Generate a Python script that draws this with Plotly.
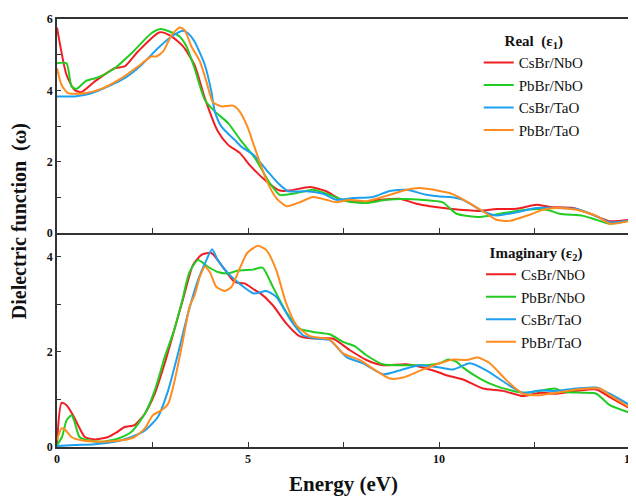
import plotly.graph_objects as go
from plotly.subplots import make_subplots

# ---------------- data: real part (epsilon_1) ----------------
re_csbr_nbo_x = [0.0, 0.25, 0.46, 0.64, 0.99, 1.51, 1.77, 2.12, 2.69, 3.0, 3.3, 3.6, 3.87, 4.21, 4.48, 4.79, 5.04, 5.48, 5.83, 6.09, 6.62, 7.05, 7.4, 7.92, 8.45, 8.97, 9.41, 9.76, 10.28, 11.07, 11.5, 12.03, 12.55, 12.9, 13.51, 14.03, 14.47, 15.0]
re_csbr_nbo_y = [5.76, 4.43, 4.01, 3.95, 4.25, 4.62, 4.67, 5.09, 5.63, 5.51, 5.23, 4.71, 3.78, 2.85, 2.47, 2.24, 1.91, 1.45, 1.19, 1.19, 1.29, 1.17, 0.95, 0.86, 0.93, 0.96, 0.82, 0.75, 0.68, 0.62, 0.67, 0.68, 0.79, 0.73, 0.70, 0.51, 0.33, 0.37]

re_pbbr_nbo_x = [0.0, 0.25, 0.38, 0.51, 0.77, 1.07, 1.51, 1.95, 2.47, 2.71, 2.99, 3.21, 3.39, 3.6, 3.87, 4.13, 4.48, 4.8, 5.2, 5.57, 5.83, 6.18, 6.7, 7.14, 7.58, 8.1, 8.62, 9.15, 9.76, 10.1, 10.46, 11.07, 11.6, 12.03, 12.64, 12.9, 13.15, 13.77, 14.12, 14.47, 15.0]
re_pbbr_nbo_y = [4.76, 4.76, 4.11, 4.04, 4.27, 4.36, 4.62, 5.04, 5.6, 5.72, 5.63, 5.51, 5.23, 4.62, 3.73, 3.41, 3.08, 2.61, 2.07, 1.40, 1.07, 1.10, 1.21, 1.07, 0.89, 0.84, 0.93, 0.95, 0.91, 0.86, 0.54, 0.45, 0.54, 0.62, 0.67, 0.63, 0.54, 0.48, 0.37, 0.26, 0.35]

re_csbr_tao_x = [0.0, 0.46, 0.9, 1.34, 1.77, 2.21, 2.64, 3.0, 3.3, 3.43, 3.6, 3.87, 4.04, 4.13, 4.3, 4.65, 4.85, 5.15, 5.48, 5.83, 6.05, 6.53, 6.96, 7.31, 7.75, 8.27, 8.71, 9.15, 9.67, 10.02, 10.28, 10.63, 11.15, 11.5, 12.03, 12.55, 13.07, 13.6, 14.12, 14.47, 15.0]
re_csbr_tao_y = [3.83, 3.83, 3.92, 4.11, 4.34, 4.71, 5.18, 5.51, 5.67, 5.60, 5.37, 4.71, 3.97, 3.41, 2.99, 2.61, 2.40, 2.19, 1.77, 1.35, 1.17, 1.17, 1.10, 0.93, 0.98, 1.01, 1.18, 1.21, 1.07, 1.02, 1.01, 0.93, 0.61, 0.49, 0.58, 0.70, 0.70, 0.67, 0.47, 0.30, 0.35]

re_pbbr_tao_x = [0.0, 0.12, 0.29, 0.73, 1.16, 1.69, 2.12, 2.47, 2.6, 2.78, 3.0, 3.21, 3.34, 3.52, 3.74, 3.91, 4.08, 4.3, 4.61, 4.78, 5.0, 5.15, 5.48, 5.74, 6.01, 6.35, 6.7, 7.05, 7.31, 7.66, 8.1, 8.62, 9.15, 9.49, 10.02, 10.28, 10.72, 11.15, 11.5, 11.85, 12.37, 12.72, 13.07, 13.6, 14.12, 14.47, 15.0]
re_pbbr_tao_y = [4.62, 4.15, 3.92, 3.92, 4.04, 4.34, 4.67, 4.95, 4.95, 5.09, 5.55, 5.76, 5.69, 5.23, 4.81, 4.25, 3.67, 3.55, 3.57, 3.41, 2.94, 2.47, 1.49, 0.98, 0.75, 0.86, 1.01, 0.93, 0.86, 0.93, 0.89, 1.04, 1.21, 1.26, 1.18, 1.12, 0.89, 0.61, 0.37, 0.34, 0.51, 0.65, 0.70, 0.65, 0.48, 0.26, 0.34]

# ---------------- data: imaginary part (epsilon_2) ----------------
im_csbr_nbo_x = [0.0, 0.12, 0.25, 0.42, 0.55, 0.73, 0.99, 1.34, 1.55, 1.77, 2.03, 2.3, 2.56, 2.82, 3.08, 3.34, 3.56, 3.78, 4.04, 4.3, 4.65, 4.91, 5.18, 5.31, 5.65, 6.0, 6.35, 6.7, 7.22, 7.66, 8.1, 8.53, 9.15, 9.67, 10.02, 10.19, 10.63, 11.15, 11.68, 12.2, 12.64, 13.07, 13.6, 14.12, 14.47, 15.0]
im_csbr_nbo_y = [0.06, 0.93, 0.88, 0.67, 0.46, 0.21, 0.16, 0.21, 0.30, 0.42, 0.46, 0.70, 1.12, 1.76, 2.49, 3.23, 3.83, 4.04, 4.08, 3.83, 3.47, 3.44, 3.30, 3.24, 2.98, 2.60, 2.33, 2.28, 2.28, 2.04, 1.83, 1.72, 1.74, 1.65, 1.56, 1.51, 1.42, 1.23, 1.18, 1.07, 1.14, 1.12, 1.18, 1.21, 1.05, 0.81]

im_pbbr_nbo_x = [0.0, 0.13, 0.25, 0.38, 0.46, 0.59, 0.81, 1.16, 1.6, 1.95, 2.3, 2.56, 2.82, 3.08, 3.26, 3.47, 3.69, 3.95, 4.21, 4.48, 4.74, 5.13, 5.38, 5.65, 6.0, 6.35, 6.7, 7.14, 7.49, 7.79, 8.1, 8.53, 9.15, 9.67, 10.02, 10.24, 10.46, 10.63, 11.07, 11.5, 12.2, 12.64, 13.03, 13.25, 13.77, 14.12, 14.47, 15.0]
im_pbbr_nbo_y = [0.04, 0.21, 0.56, 0.67, 0.53, 0.21, 0.14, 0.11, 0.18, 0.32, 0.70, 1.19, 1.89, 2.49, 3.02, 3.68, 3.93, 3.79, 3.68, 3.65, 3.71, 3.73, 3.77, 3.37, 2.84, 2.49, 2.42, 2.37, 2.21, 2.12, 1.93, 1.74, 1.72, 1.72, 1.76, 1.84, 1.79, 1.67, 1.44, 1.28, 1.14, 1.18, 1.23, 1.16, 1.14, 1.12, 0.88, 0.72]

im_csbr_tao_x = [0.0, 0.46, 0.99, 1.51, 1.95, 2.3, 2.64, 2.91, 3.17, 3.43, 3.69, 3.91, 4.06, 4.21, 4.48, 4.8, 5.15, 5.48, 5.74, 6.09, 6.44, 6.79, 7.14, 7.58, 8.01, 8.53, 8.97, 9.49, 10.02, 10.37, 10.81, 11.24, 11.77, 12.2, 12.64, 13.07, 13.6, 14.12, 14.47, 15.0]
im_csbr_tao_y = [0.02, 0.04, 0.06, 0.11, 0.21, 0.35, 0.63, 1.19, 1.97, 2.81, 3.51, 3.93, 4.16, 3.93, 3.65, 3.42, 3.23, 3.28, 3.16, 2.70, 2.35, 2.28, 2.25, 1.89, 1.76, 1.53, 1.61, 1.72, 1.67, 1.63, 1.76, 1.61, 1.33, 1.14, 1.19, 1.18, 1.23, 1.25, 1.12, 0.88]

im_pbbr_tao_x = [0.0, 0.12, 0.2, 0.38, 0.64, 1.16, 1.69, 2.03, 2.3, 2.51, 2.73, 2.91, 3.08, 3.3, 3.47, 3.6, 3.74, 3.87, 4.0, 4.17, 4.39, 4.57, 4.78, 4.98, 5.26, 5.48, 5.74, 6.0, 6.27, 6.62, 7.14, 7.49, 7.92, 8.27, 8.71, 9.06, 9.49, 10.02, 10.37, 10.72, 11.02, 11.33, 11.77, 12.2, 12.64, 13.07, 13.6, 14.21, 14.47, 15.0]
im_pbbr_tao_y = [0.14, 0.39, 0.37, 0.21, 0.14, 0.11, 0.14, 0.21, 0.39, 0.67, 0.77, 0.91, 1.40, 2.25, 2.95, 3.19, 3.58, 3.79, 3.68, 3.37, 3.28, 3.37, 3.75, 4.08, 4.23, 4.14, 3.72, 3.02, 2.56, 2.33, 2.26, 1.97, 1.83, 1.65, 1.44, 1.46, 1.60, 1.76, 1.84, 1.83, 1.88, 1.76, 1.40, 1.12, 1.09, 1.14, 1.21, 1.23, 1.09, 0.83]

series_names = ["CsBr/NbO", "PbBr/NbO", "CsBr/TaO", "PbBr/TaO"]
series_colors = ["#f01e23", "#22cc22", "#1ea0f0", "#ff8c1e"]
x_ticks = [0, 5, 10, 15]

real_sets = [(re_csbr_nbo_x, re_csbr_nbo_y), (re_pbbr_nbo_x, re_pbbr_nbo_y),
             (re_csbr_tao_x, re_csbr_tao_y), (re_pbbr_tao_x, re_pbbr_tao_y)]
imag_sets = [(im_csbr_nbo_x, im_csbr_nbo_y), (im_pbbr_nbo_x, im_pbbr_nbo_y),
             (im_csbr_tao_x, im_csbr_tao_y), (im_pbbr_tao_x, im_pbbr_tao_y)]

SERIF = "Times New Roman, Liberation Serif, serif"

fig = make_subplots(rows=2, cols=1, shared_xaxes=True, vertical_spacing=0)

for (xs, ys), name, col in zip(real_sets, series_names, series_colors):
    fig.add_trace(go.Scatter(x=xs, y=ys, mode="lines", name=name,
                             line=dict(color=col, width=2, shape="spline", smoothing=0.6),
                             legend="legend"), row=1, col=1)
for (xs, ys), name, col in zip(imag_sets, series_names, series_colors):
    fig.add_trace(go.Scatter(x=xs, y=ys, mode="lines", name=name,
                             line=dict(color=col, width=2, shape="spline", smoothing=0.6),
                             legend="legend2"), row=2, col=1)

axis_common = dict(showline=True, linecolor="#333333", linewidth=1.5, automargin=False,
                   ticks="inside", tickcolor="#333333", tickwidth=1.2, showgrid=False,
                   zeroline=False, ticklabeloverflow="allow",
                   tickfont=dict(family=SERIF, size=12, color="#111111", weight="bold"))

fig.update_xaxes(range=[0, 15], tickvals=x_ticks, ticklen=5,
                 minor=dict(dtick=2.5, ticks="inside", ticklen=5, tickcolor="#333333", tickwidth=1.2, showgrid=False),
                 **axis_common)
fig.update_xaxes(showticklabels=False, mirror=True, row=1, col=1)
fig.update_xaxes(showticklabels=True, mirror=False, row=2, col=1,
                 title=dict(text="Energy (eV)", standoff=12,
                            font=dict(family=SERIF, size=21, color="#111111", weight="bold")))

fig.update_yaxes(dtick=2, ticklen=4, mirror=True,
                 minor=dict(dtick=1, ticks="inside", ticklen=4, tickcolor="#333333", tickwidth=1.2, showgrid=False),
                 **axis_common)
fig.update_yaxes(range=[0, 6], row=1, col=1)
fig.update_yaxes(range=[0, 4.5], row=2, col=1)

legend_common = dict(bgcolor="rgba(0,0,0,0)", borderwidth=0,
                     font=dict(family=SERIF, size=15, color="#111111"),
                     xanchor="left", yanchor="top", tracegroupgap=0)

# the page adds an 8 px body margin; the figure is sized so the plot lands where the reference has it
fig.update_layout(
    width=628, height=488,
    margin=dict(l=49, r=6, t=11, b=49),
    paper_bgcolor="white", plot_bgcolor="white",
    showlegend=True,
    legend=dict(x=0.736, y=0.982,
                title=dict(text="<b>Real  (ε<sub>1</sub>)</b>", side="top center",
                           font=dict(family=SERIF, size=15, color="#111111")),
                **legend_common),
    legend2=dict(x=0.74, y=0.487,
                 title=dict(text="<b>Imaginary (ε<sub>2</sub>)</b>", side="top center",
                            font=dict(family=SERIF, size=15, color="#111111")),
                 **legend_common),
    annotations=[dict(text="<b>Dielectric function  (ω)</b>", xref="paper", yref="paper",
                      x=-0.065, y=0.527, xanchor="center", yanchor="middle", textangle=-90,
                      showarrow=False, font=dict(family=SERIF, size=20, color="#111111"))],
)

fig.write_html("out.html")
